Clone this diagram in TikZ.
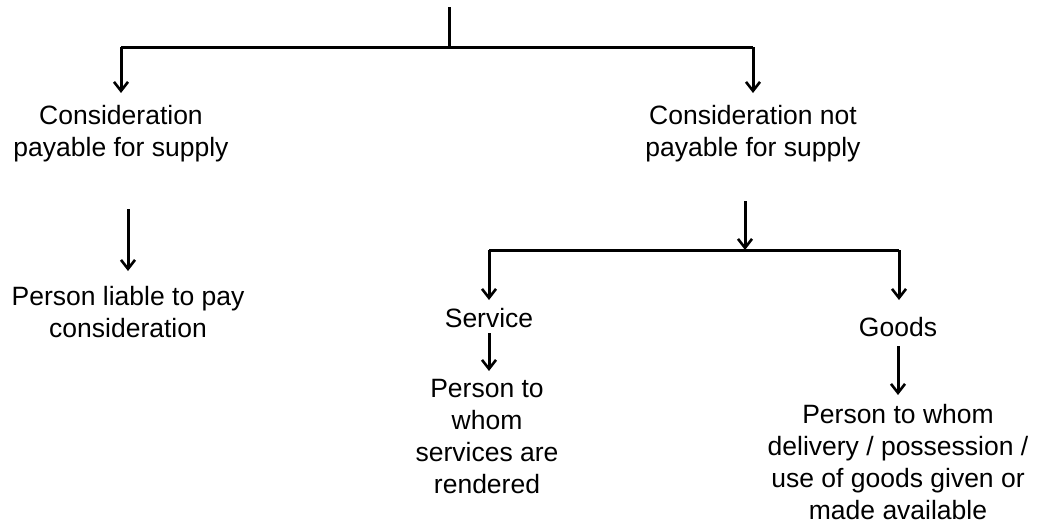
\documentclass[tikz,border=0pt]{standalone}
\usepackage{fontspec}
\setmainfont{Liberation Sans}
\usetikzlibrary{arrows.meta}
\begin{document}
\begin{tikzpicture}[x=1pt,y=-1pt,
  lbl/.style={align=center,inner sep=0pt,font=\fontsize{26.5}{32}\selectfont},
  link/.style={line width=3pt},
  arr/.style={line width=3pt,-{Straight Barb[length=9pt,width=14pt,line width=2.6pt]}}]
\useasboundingbox (0,0) rectangle (1040,525);

% labels
\node[lbl] (c1) at (121,134) {Consideration\\payable for supply};
\node[lbl] (c2) at (753,134) {Consideration not\\payable for supply};
\node[lbl] (p1) at (128,312) {Person liable to pay\\consideration};
\node[lbl] (sv) at (489,318) {Service};
\node[lbl] (sp) at (487,437) {Person to\\whom\\services are\\rendered};
\node[lbl] (gd) at (898,327) {Goods};
\node[lbl] (gp) at (898,462) {Person to whom\\delivery / possession /\\use of goods given or\\made available};

% junction points and arrow ends
\coordinate (top) at (449,7);
\coordinate (j1) at (449,47);
\coordinate (l1) at (121,47);
\coordinate (r1) at (753,47);
\coordinate (l1e) at (121,93);
\coordinate (r1e) at (753,93);
\coordinate (p1s) at (128,209);
\coordinate (p1e) at (128,271);
\coordinate (m0) at (745,201);
\coordinate (j2) at (745,250);
\coordinate (l2) at (489,250);
\coordinate (r2) at (899,250);
\coordinate (l2e) at (489,300);
\coordinate (r2e) at (899,300);
\coordinate (svs) at (489,333);
\coordinate (sve) at (489,371);
\coordinate (gds) at (898,346);
\coordinate (gde) at (898,395);

% top branch
\draw[link] (top) -- (j1);
\draw[link] (l1) -- (r1);
\draw[arr] (l1) -- (l1e);
\draw[arr] (r1) -- (r1e);

% left column
\draw[arr] (p1s) -- (p1e);

% right column
\draw[arr] (m0) -- (j2);
\draw[link] (l2) -- (r2);
\draw[arr] (l2) -- (l2e);
\draw[arr] (r2) -- (r2e);
\draw[arr] (svs) -- (sve);
\draw[arr] (gds) -- (gde);
\end{tikzpicture}
\end{document}
